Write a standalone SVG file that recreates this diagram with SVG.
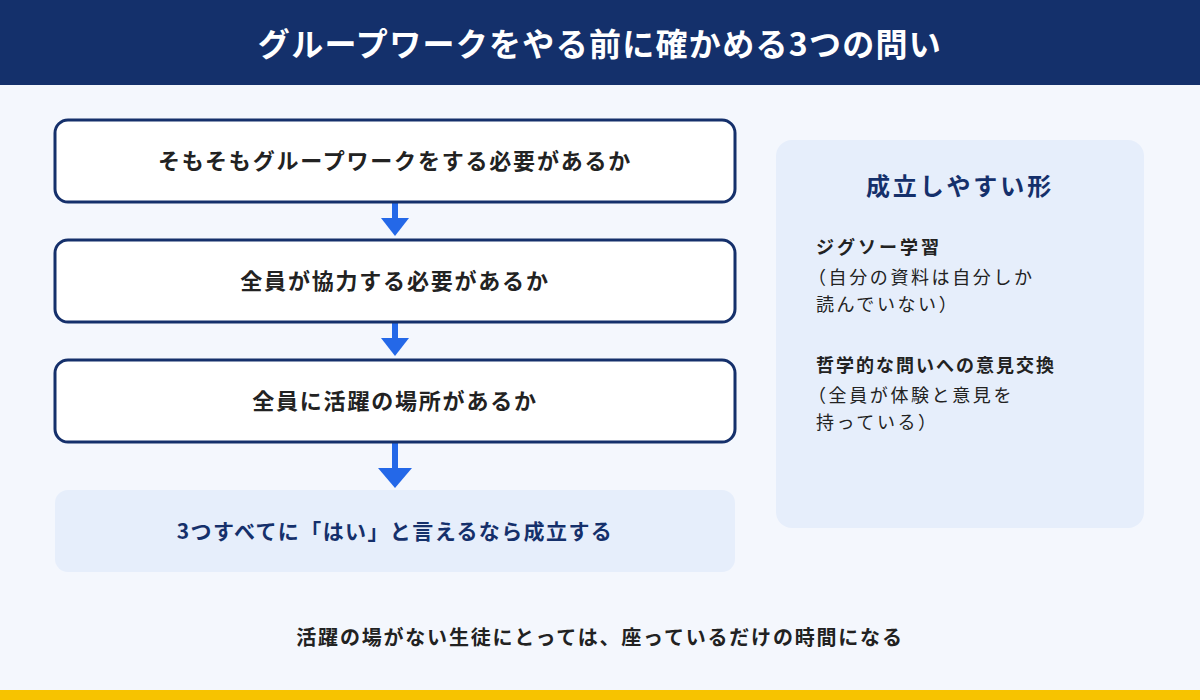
<svg xmlns="http://www.w3.org/2000/svg" width="1200" height="700" viewBox="0 0 1200 700">
<defs>
<style>
text{font-family:"Noto Sans CJK JP","Noto Sans",sans-serif;}
.box{fill:#fff;stroke:#15306b;stroke-width:3;}
.bt{font-size:22px;font-weight:bold;fill:#222;text-anchor:middle;letter-spacing:1.8px;}
.it{font-size:18px;font-weight:bold;fill:#222;letter-spacing:3px;}
.nt{font-size:18px;fill:#222;letter-spacing:2.6px;}
.arr{fill:#2468e8;}
</style>
</defs>
<rect width="1200" height="700" fill="#f4f7fd"/>
<rect width="1200" height="85" fill="#14306b"/>
<text x="600" y="56" font-size="32" font-weight="bold" fill="#fff" text-anchor="middle" letter-spacing="1.3">グループワークをやる前に確かめる3つの問い</text>
<g id="connectors">
<rect class="arr" x="392" y="202" width="6" height="18"/><polygon class="arr" points="381,218 409,218 395,236"/>
<rect class="arr" x="392" y="322" width="6" height="18"/><polygon class="arr" points="381,338 409,338 395,356"/>
<rect class="arr" x="392" y="442" width="6" height="28"/><polygon class="arr" points="378,468 412,468 395,488"/>
</g>
<g id="q1"><rect class="box" x="55" y="120" width="680" height="82" rx="13"/><text class="bt" x="395" y="169">そもそもグループワークをする必要があるか</text></g>
<g id="q2"><rect class="box" x="55" y="240" width="680" height="82" rx="13"/><text class="bt" x="395" y="289">全員が協力する必要があるか</text></g>
<g id="q3"><rect class="box" x="55" y="360" width="680" height="82" rx="13"/><text class="bt" x="395" y="409">全員に活躍の場所があるか</text></g>
<g id="result"><rect x="55" y="490" width="680" height="82" rx="13" fill="#e6eefb"/><text class="bt" x="395" y="539" style="fill:#15306b;letter-spacing:1.4px;font-size:21px">3つすべてに「はい」と言えるなら成立する</text></g>
<g id="panel">
<rect x="776" y="140" width="368" height="388" rx="16" fill="#e6eefb"/>
<text x="960" y="195" font-size="24" font-weight="bold" fill="#15306b" text-anchor="middle" letter-spacing="2.9">成立しやすい形</text>
<text class="it" x="816" y="254">ジグソー学習</text>
<text class="nt" x="808" y="284">（自分の資料は自分しか</text>
<text class="nt" x="816" y="311">読んでいない）</text>
<text class="it" x="816" y="372" style="letter-spacing:2px">哲学的な問いへの意見交換</text>
<text class="nt" x="808" y="402">（全員が体験と意見を</text>
<text class="nt" x="816" y="429">持っている）</text>
</g>
<text x="600" y="645" font-size="20" font-weight="bold" fill="#222" text-anchor="middle" letter-spacing="1.8">活躍の場がない生徒にとっては、座っているだけの時間になる</text>
<rect y="690" width="1200" height="10" fill="#f7c300"/>
</svg>
